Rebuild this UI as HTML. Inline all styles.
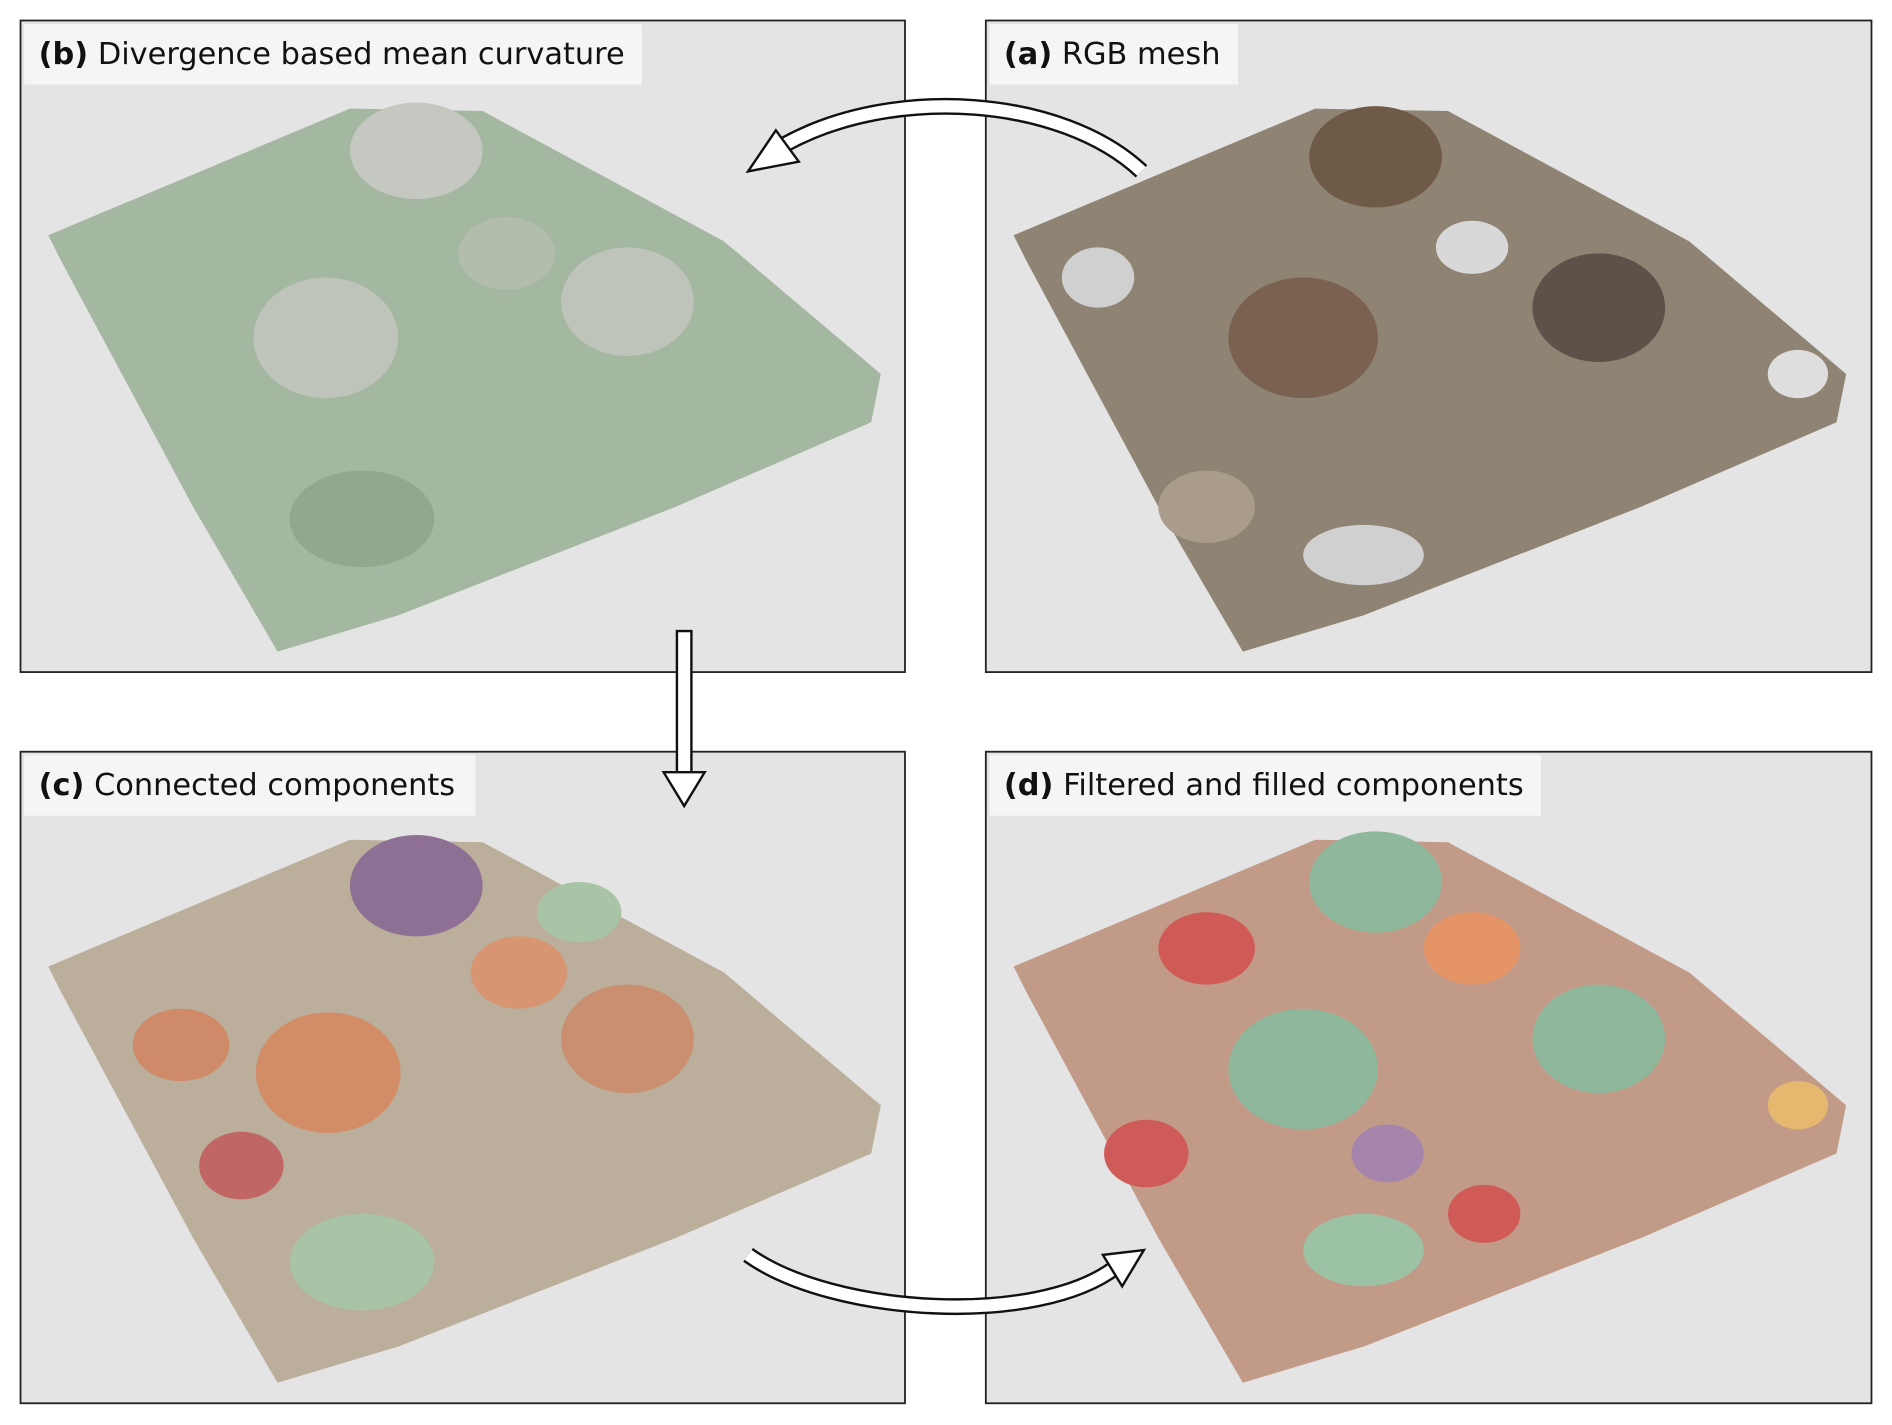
<!DOCTYPE html>
<html><head><meta charset="utf-8"><style>
html,body{margin:0;padding:0;background:#fff;}
svg{display:block;}
text{font-family:"DejaVu Sans","Liberation Sans",sans-serif;font-size:25.2px;fill:#111;}
</style></head><body>
<svg width="1892" height="1425" viewBox="0 0 1568 1181" preserveAspectRatio="none">
<rect width="1568" height="1181" fill="#fff"/>
<rect x="17" y="17" width="733" height="540" fill="#e4e4e4" stroke="#222" stroke-width="1.5"/>
<rect x="817" y="17" width="734" height="540" fill="#e4e4e4" stroke="#222" stroke-width="1.5"/>
<rect x="17" y="623" width="733" height="540" fill="#e4e4e4" stroke="#222" stroke-width="1.5"/>
<rect x="817" y="623" width="734" height="540" fill="#e4e4e4" stroke="#222" stroke-width="1.5"/>

<defs>
<polygon id="ter" points="40,195 290,90 400,92 600,200 730,310 722,350 560,420 330,510 230,540 160,420 50,215"/>
</defs>
<g>
<use href="#ter" fill="#a4b7a0"/>
<ellipse cx="345" cy="125" rx="55" ry="40" fill="#c4c8c0"/>
<ellipse cx="270" cy="280" rx="60" ry="50" fill="#bfc4ba"/>
<ellipse cx="520" cy="250" rx="55" ry="45" fill="#bfc4ba"/>
<ellipse cx="420" cy="210" rx="40" ry="30" fill="#b2bdad"/>
<ellipse cx="300" cy="430" rx="60" ry="40" fill="#91a88d"/>
</g>
<g transform="translate(800,0)">
<use href="#ter" fill="#8f8473"/>
<ellipse cx="340" cy="130" rx="55" ry="42" fill="#6f5a48"/>
<ellipse cx="280" cy="280" rx="62" ry="50" fill="#7a6150"/>
<ellipse cx="525" cy="255" rx="55" ry="45" fill="#5d524a"/>
<ellipse cx="420" cy="205" rx="30" ry="22" fill="#d8d8d8"/>
<ellipse cx="330" cy="460" rx="50" ry="25" fill="#d0d0d0"/>
<ellipse cx="110" cy="230" rx="30" ry="25" fill="#d0d0d0"/>
<ellipse cx="690" cy="310" rx="25" ry="20" fill="#dedede"/>
<ellipse cx="200" cy="420" rx="40" ry="30" fill="#a99c8b"/>
</g>
<g transform="translate(0,606)">
<use href="#ter" fill="#bbae9b"/>
<ellipse cx="345" cy="128" rx="55" ry="42" fill="#8f7095"/>
<ellipse cx="272" cy="283" rx="60" ry="50" fill="#d38d66"/>
<ellipse cx="520" cy="255" rx="55" ry="45" fill="#c98f70"/>
<ellipse cx="430" cy="200" rx="40" ry="30" fill="#d79572"/>
<ellipse cx="150" cy="260" rx="40" ry="30" fill="#cf8a6a"/>
<ellipse cx="300" cy="440" rx="60" ry="40" fill="#a9c3a7"/>
<ellipse cx="200" cy="360" rx="35" ry="28" fill="#c06664"/>
<ellipse cx="480" cy="150" rx="35" ry="25" fill="#a9c3a7"/>
</g>
<g transform="translate(800,606)">
<use href="#ter" fill="#c29b88"/>
<ellipse cx="340" cy="125" rx="55" ry="42" fill="#8fb79b"/>
<ellipse cx="280" cy="280" rx="62" ry="50" fill="#8fb79b"/>
<ellipse cx="525" cy="255" rx="55" ry="45" fill="#8fb79b"/>
<ellipse cx="200" cy="180" rx="40" ry="30" fill="#d05a55"/>
<ellipse cx="420" cy="180" rx="40" ry="30" fill="#e49467"/>
<ellipse cx="150" cy="350" rx="35" ry="28" fill="#cf5b58"/>
<ellipse cx="330" cy="430" rx="50" ry="30" fill="#9bc2a4"/>
<ellipse cx="690" cy="310" rx="25" ry="20" fill="#e6b86f"/>
<ellipse cx="350" cy="350" rx="30" ry="24" fill="#a685ad"/>
<ellipse cx="430" cy="400" rx="30" ry="24" fill="#d05a55"/>
</g>

<rect x="20" y="20" width="512" height="50" fill="#f5f5f5"/>
<text x="32" y="53"><tspan font-weight="bold">(b)</tspan> Divergence based mean curvature</text>
<rect x="820" y="20" width="206" height="50" fill="#f5f5f5"/>
<text x="832" y="53"><tspan font-weight="bold">(a)</tspan> RGB mesh</text>
<rect x="20" y="626" width="374" height="50" fill="#f5f5f5"/>
<text x="32" y="659"><tspan font-weight="bold">(c)</tspan> Connected components</text>
<rect x="820" y="626" width="457" height="50" fill="#f5f5f5"/>
<text x="832" y="659"><tspan font-weight="bold">(d)</tspan> Filtered and filled components</text>

<g fill="none" stroke-linecap="butt">
<path d="M946,142 C880,80 740,70 650,120" stroke="#111" stroke-width="14"/>
<path d="M946,142 C880,80 740,70 650,120" stroke="#fff" stroke-width="10"/>
<path d="M620,1040 C690,1090 860,1100 925,1050" stroke="#111" stroke-width="14"/>
<path d="M620,1040 C690,1090 860,1100 925,1050" stroke="#fff" stroke-width="10"/>
</g>
<polygon points="620,142 643,108 662,134" fill="#fff" stroke="#111" stroke-width="2"/>
<polygon points="948,1036 914,1040 930,1066" fill="#fff" stroke="#111" stroke-width="2"/>
<rect x="561" y="523" width="12" height="118" fill="#fff" stroke="#111" stroke-width="2"/>
<polygon points="550,640 584,640 567,668" fill="#fff" stroke="#111" stroke-width="2"/>
</svg>
</body></html>
